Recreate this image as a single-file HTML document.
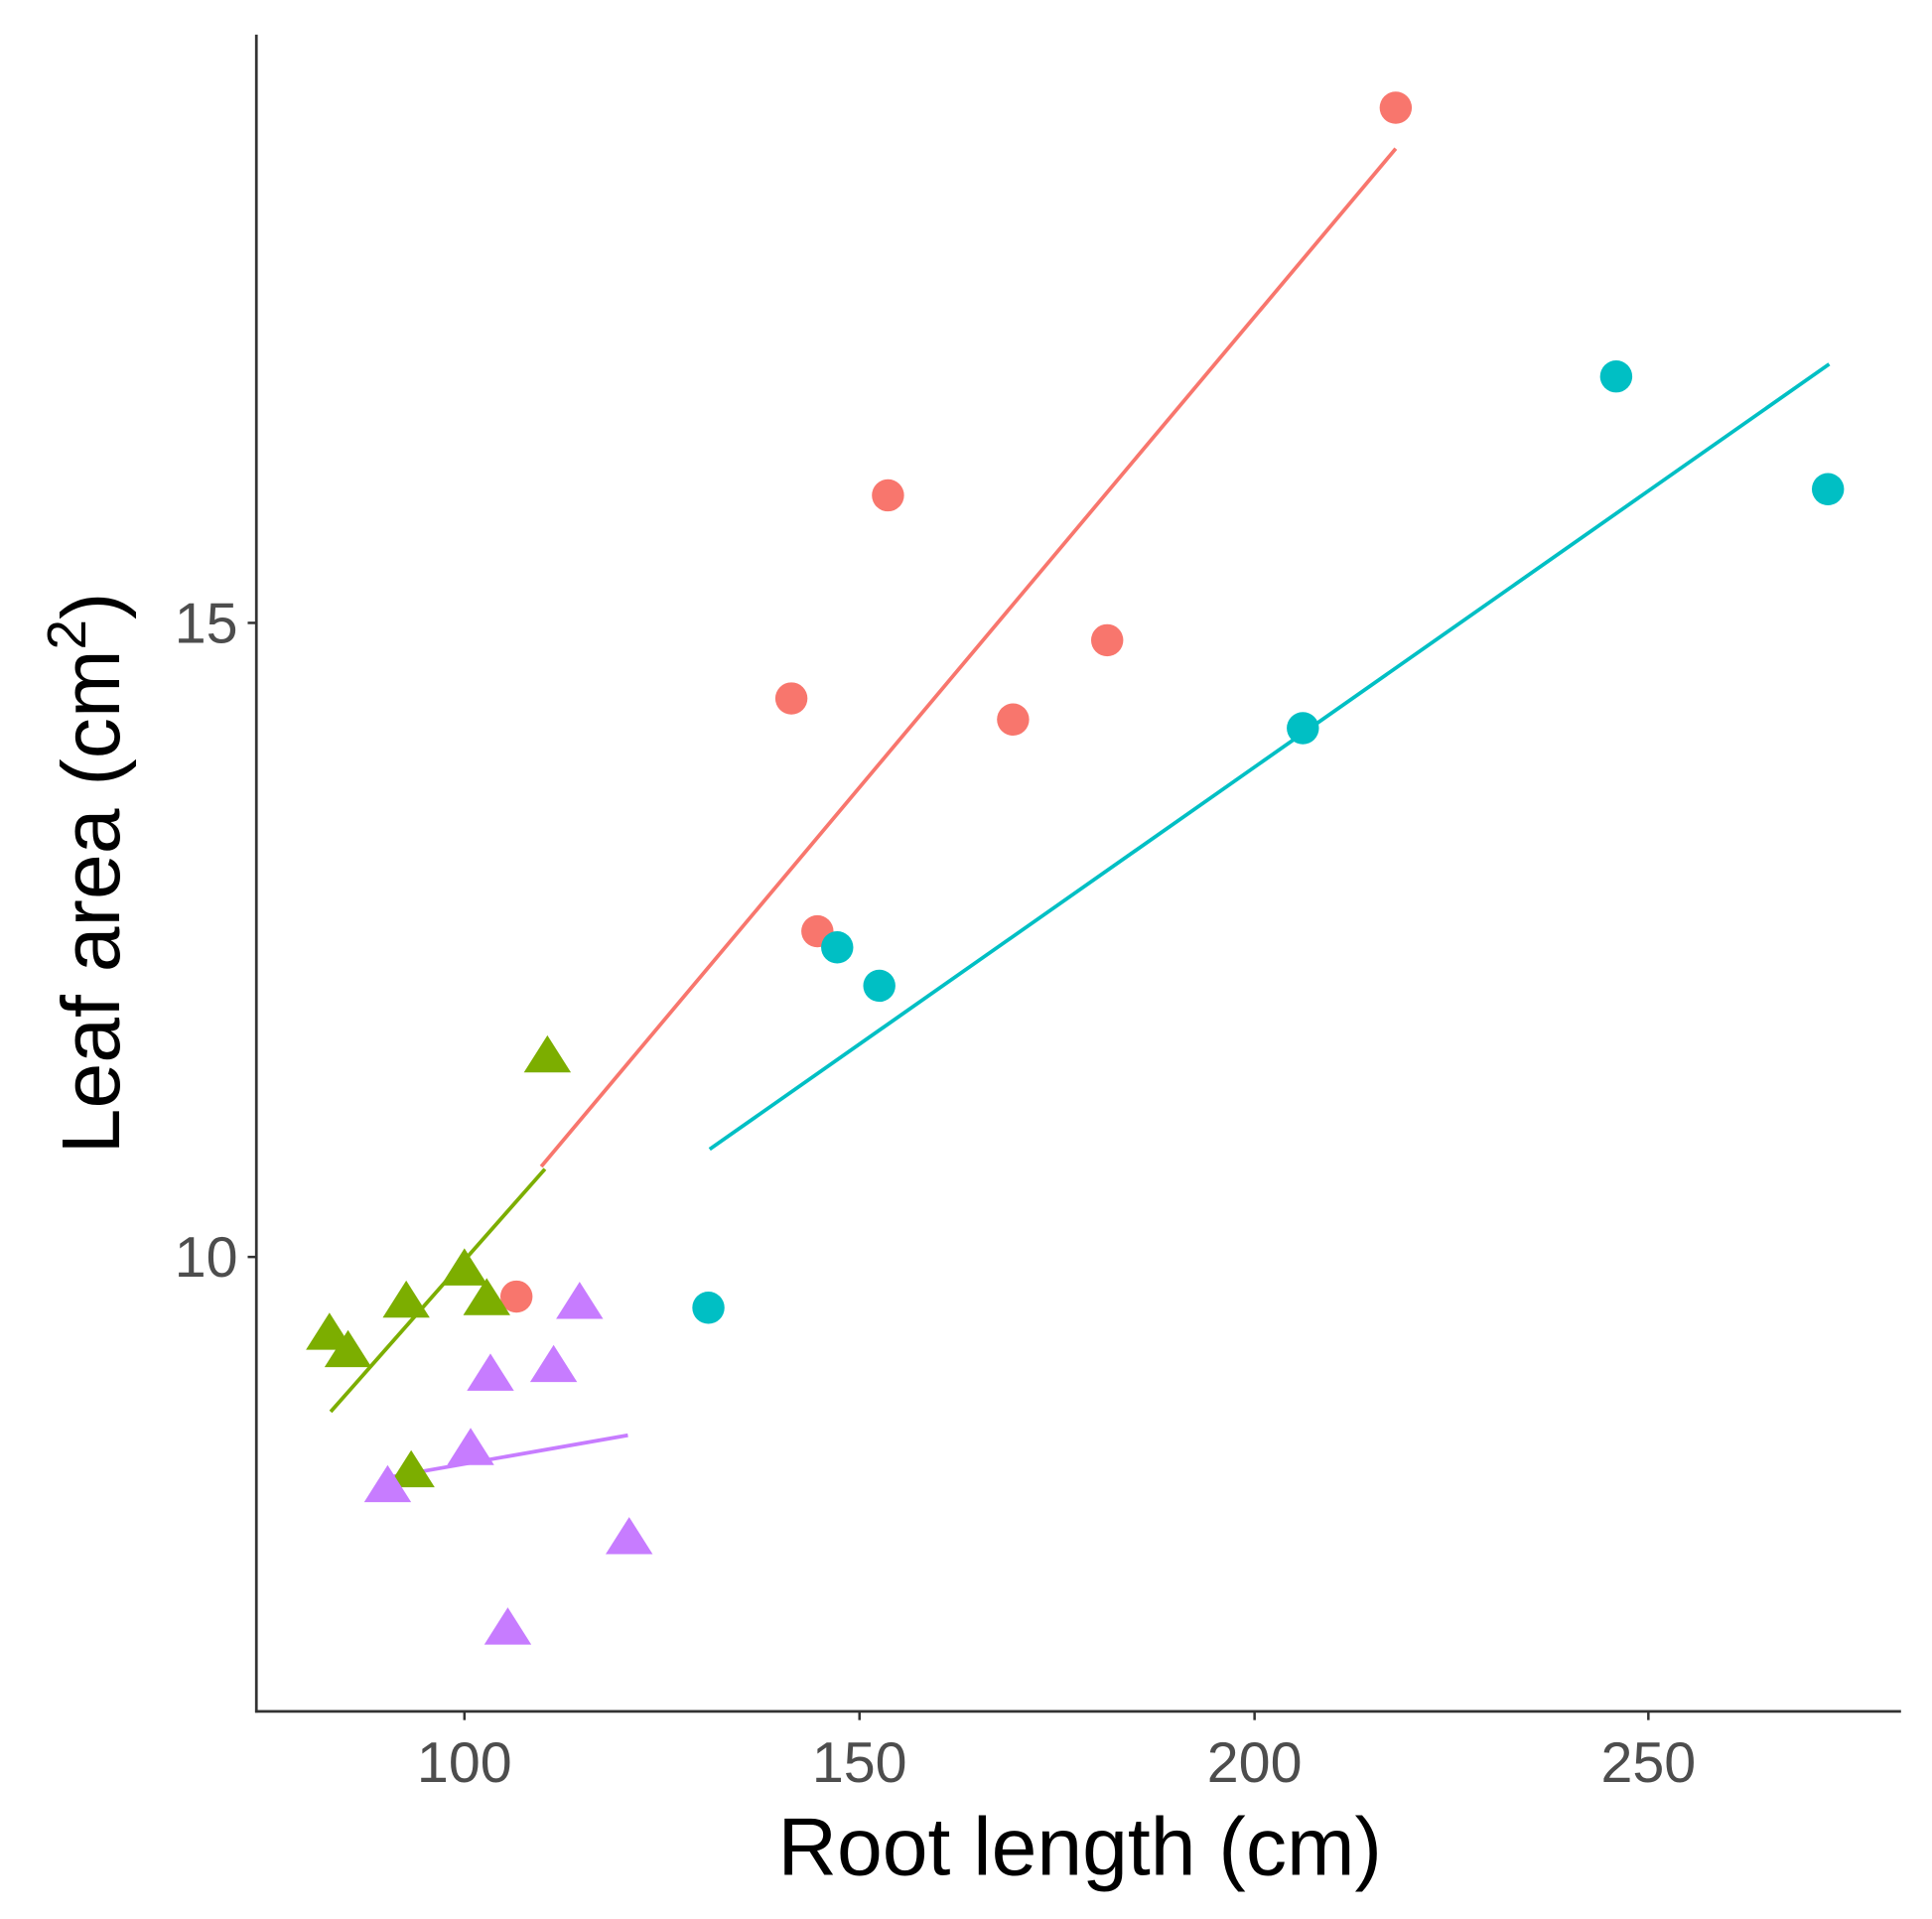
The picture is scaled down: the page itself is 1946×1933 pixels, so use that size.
<!DOCTYPE html>
<html><head><style>html,body{margin:0;padding:0;background:#fff}</style></head>
<body>
<svg width="1946" height="1928" viewBox="0 0 1560 1545.6" xmlns="http://www.w3.org/2000/svg" font-family="Liberation Sans, Arial, sans-serif">
<rect width="1560" height="1546" fill="#fff"/>
<line x1="207" y1="28" x2="207" y2="1383" stroke="#333" stroke-width="2.2"/>
<line x1="206" y1="1382" x2="1535" y2="1382" stroke="#333" stroke-width="2.2"/>
<g stroke="#333" stroke-width="2">
<line x1="200" y1="503" x2="207" y2="503"/><line x1="200" y1="1015" x2="207" y2="1015"/>
<line x1="375" y1="1382" x2="375" y2="1389"/><line x1="694" y1="1382" x2="694" y2="1389"/>
<line x1="1013" y1="1382" x2="1013" y2="1389"/><line x1="1331" y1="1382" x2="1331" y2="1389"/>
</g>
<g fill="#4d4d4d" font-size="46">
<text x="192" y="519" text-anchor="end">15</text>
<text x="192" y="1031" text-anchor="end">10</text>
<text x="375" y="1439" text-anchor="middle">100</text>
<text x="694" y="1439" text-anchor="middle">150</text>
<text x="1013" y="1439" text-anchor="middle">200</text>
<text x="1331" y="1439" text-anchor="middle">250</text>
</g>
<text x="872" y="1514" text-anchor="middle" font-size="66" fill="#000">Root length (cm)</text>
<text transform="translate(96,705) rotate(-90)" text-anchor="middle" font-size="66" fill="#000">Leaf area (cm<tspan font-size="44" dy="-27">2</tspan><tspan dy="27">)</tspan></text>
<g stroke-width="3" fill="none">
<line x1="437" y1="942" x2="1127" y2="120" stroke="#F8766D"/>
<line x1="573" y1="928" x2="1477" y2="294" stroke="#00BFC4"/>
<line x1="267" y1="1140" x2="440" y2="944" stroke="#7CAE00"/>
<line x1="313" y1="1193" x2="507" y2="1159" stroke="#C77CFF"/>
</g>
<g fill="#F8766D">
<circle cx="1127" cy="87" r="13"/><circle cx="717" cy="400" r="13"/><circle cx="639" cy="564" r="13"/><circle cx="894" cy="517" r="13"/><circle cx="818" cy="581" r="13"/><circle cx="660" cy="752" r="13"/><circle cx="417" cy="1047" r="13"/>
</g>
<g fill="#00BFC4">
<circle cx="1305" cy="304" r="13"/><circle cx="1476" cy="395" r="13"/><circle cx="1052" cy="588" r="13"/><circle cx="676" cy="765" r="13"/><circle cx="710" cy="796" r="13"/><circle cx="572" cy="1056" r="13"/>
</g>
<g fill="#7CAE00">
<path d="M442 836 l19 30 h-38z"/><path d="M266 1060 l19 30 h-38z"/><path d="M281 1074 l19 30 h-38z"/><path d="M328 1034 l19 30 h-38z"/><path d="M375 1008 l19 30 h-38z"/><path d="M393 1032 l19 30 h-38z"/><path d="M332 1171 l19 30 h-38z"/>
</g>
<g fill="#C77CFF">
<path d="M468 1035 l19 30 h-38z"/><path d="M396 1093 l19 30 h-38z"/><path d="M447 1086 l19 30 h-38z"/><path d="M380 1153 l19 30 h-38z"/><path d="M313 1183 l19 30 h-38z"/><path d="M508 1225 l19 30 h-38z"/><path d="M410 1298 l19 30 h-38z"/>
</g>
</svg>
</body></html>
